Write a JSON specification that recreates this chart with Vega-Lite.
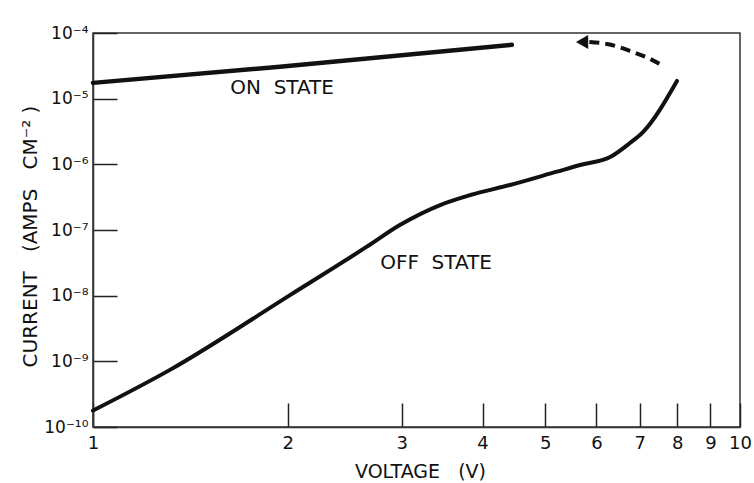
{
  "$schema": "https://vega.github.io/schema/vega-lite/v6.json",
  "autosize": "none",
  "width": 647,
  "height": 394,
  "padding": {"left": 93, "top": 33, "right": 14, "bottom": 56},
  "background": "white",
  "config": {
    "view": {"stroke": "#333", "strokeWidth": 1.5},
    "font": "DejaVu Sans",
    "axis": {
      "grid": false,
      "labelFlush": false,
      "labelOverlap": false,
      "domainColor": "#333",
      "domainWidth": 1.5,
      "tickColor": "#222",
      "tickWidth": 1.5,
      "tickSize": -24,
      "labelFont": "DejaVu Sans",
      "labelFontSize": 18,
      "labelColor": "#111",
      "titleFont": "DejaVu Sans",
      "titleFontSize": 19,
      "titleFontWeight": "normal",
      "titleColor": "#111"
    }
  },
  "datasets": {
    "curves": [
      {"state": "on", "voltage": 1.0, "current": 1.74e-5},
      {"state": "on", "voltage": 1.945, "current": 3.07e-5},
      {"state": "on", "voltage": 4.44, "current": 6.6e-5},
      {"state": "off", "voltage": 1.0, "current": 1.78e-10},
      {"state": "off", "voltage": 1.315, "current": 7.41e-10},
      {"state": "off", "voltage": 2.016, "current": 1.02e-8},
      {"state": "off", "voltage": 2.65, "current": 5.57e-8},
      {"state": "off", "voltage": 2.98, "current": 1.19e-7},
      {"state": "off", "voltage": 3.44, "current": 2.4e-7},
      {"state": "off", "voltage": 3.83, "current": 3.41e-7},
      {"state": "off", "voltage": 4.41, "current": 4.84e-7},
      {"state": "off", "voltage": 5.21, "current": 7.73e-7},
      {"state": "off", "voltage": 5.66, "current": 9.77e-7},
      {"state": "off", "voltage": 6.3, "current": 1.29e-6},
      {"state": "off", "voltage": 6.76, "current": 2.11e-6},
      {"state": "off", "voltage": 7.08, "current": 3.09e-6},
      {"state": "off", "voltage": 7.99, "current": 1.86e-5},
      {"state": "switch", "voltage": 7.6, "current": 3.16e-5},
      {"state": "switch", "voltage": 7.21, "current": 4.17e-5},
      {"state": "switch", "voltage": 6.83, "current": 5.13e-5},
      {"state": "switch", "voltage": 6.23, "current": 6.81e-5},
      {"state": "switch", "voltage": 5.85, "current": 7.29e-5}
    ],
    "arrowhead": [
      {"voltage": 5.7, "current": 7.29e-5}
    ],
    "labels": [
      {"text": "ON\u00a0\u00a0STATE", "voltage": 1.96, "current": 1.46e-5},
      {"text": "OFF\u00a0\u00a0STATE", "voltage": 3.39, "current": 3.16e-8}
    ]
  },
  "encoding": {
    "x": {
      "field": "voltage",
      "type": "quantitative",
      "scale": {"type": "log", "domain": [1, 10], "nice": false},
      "axis": {
        "title": "VOLTAGE\u00a0\u00a0\u00a0(V)",
        "values": [1, 2, 3, 4, 5, 6, 7, 8, 9, 10],
        "labelExpr": "format(datum.value, 'd')",
        "labelPadding": 31,
        "titleX": 327,
        "titleY": 44,
        "titleAlign": "center",
        "titleBaseline": "middle"
      }
    },
    "y": {
      "field": "current",
      "type": "quantitative",
      "scale": {"type": "log", "domain": [1e-10, 1e-4], "nice": false},
      "axis": {
        "title": "CURRENT\u00a0\u00a0\u00a0(AMPS\u00a0\u00a0\u00a0CM⁻²\u00a0)",
        "titleFontSize": 20,
        "values": [1e-10, 1e-9, 1e-8, 1e-7, 1e-6, 1e-5, 1e-4],
        "labelExpr": "'10⁻' + (round(log(datum.value) / LN10) == -10 ? '¹⁰' : ['', '¹', '²', '³', '⁴', '⁵', '⁶', '⁷', '⁸', '⁹'][-round(log(datum.value) / LN10)])",
        "labelFontSize": 17,
        "labelPadding": 29,
        "titleX": -63,
        "titleY": 203,
        "titleAngle": -90,
        "titleAlign": "center",
        "titleBaseline": "middle"
      }
    }
  },
  "layer": [
    {
      "data": {"name": "curves"},
      "transform": [{"filter": "datum.state === 'on'"}],
      "mark": {"type": "line", "color": "#111", "strokeWidth": 4.5, "strokeCap": "round"}
    },
    {
      "data": {"name": "curves"},
      "transform": [{"filter": "datum.state === 'off'"}],
      "mark": {"type": "line", "color": "#111", "strokeWidth": 4, "strokeCap": "round", "interpolate": "monotone"}
    },
    {
      "data": {"name": "curves"},
      "transform": [{"filter": "datum.state === 'switch'"}],
      "mark": {"type": "line", "color": "#111", "strokeWidth": 4, "strokeDash": [10, 6], "interpolate": "monotone"}
    },
    {
      "data": {"name": "arrowhead"},
      "mark": {"type": "point", "shape": "triangle-left", "filled": true, "color": "#111", "size": 200, "opacity": 1}
    },
    {
      "data": {"name": "labels"},
      "mark": {"type": "text", "font": "DejaVu Sans", "fontSize": 20, "color": "#111", "align": "center", "baseline": "middle"},
      "encoding": {"text": {"field": "text"}}
    }
  ]
}
